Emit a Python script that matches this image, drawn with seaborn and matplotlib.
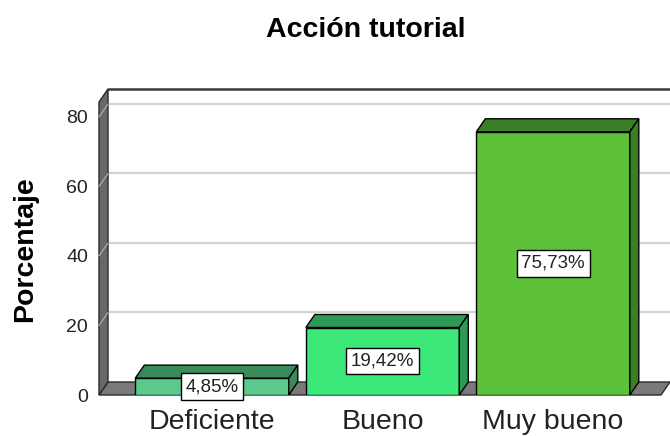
import matplotlib
matplotlib.use("Agg")
import matplotlib.pyplot as plt
from matplotlib.patches import Polygon
import seaborn as sns
import pandas as pd

categorias = ["Deficiente", "Bueno", "Muy bueno"]
porcentajes = [4.85, 19.42, 75.73]
etiquetas = ["4,85%", "19,42%", "75,73%"]
colores_frente = ["#5cc88c", "#3de87b", "#5dc23a"]
colores_lado = ["#3b8a5a", "#2c9a55", "#3c7d28"]
ticks_y = [0, 20, 40, 60, 80]

sns.set_theme(style="white")
plt.rcParams["font.family"] = ["Liberation Sans", "DejaVu Sans"]

W, H = 670, 436
fig = plt.figure(figsize=(W / 100, H / 100), dpi=100)

# front plane of the SPSS-like 3D box (pixels)
left, right, bottom, top = 99, 661, 395, 102
ax = fig.add_axes([left / W, (H - bottom) / H, (right - left) / W, (bottom - top) / H])

df = pd.DataFrame({"Categoria": categorias, "Porcentaje": porcentajes})
sns.barplot(data=df, x="Categoria", y="Porcentaje", hue="Categoria",
            palette=colores_frente, saturation=1, width=0.9, edgecolor="black",
            linewidth=1, legend=False, ax=ax, zorder=3)

ax.set_xlim(-0.663, 2.633)
ax.set_ylim(0, 84.3)

# depth of the 3D effect: 9 px right, 13 px up -> data units
DX, DY = 9, 13
x0, x1 = ax.get_xlim()
y0, y1 = ax.get_ylim()
ddx = DX * (x1 - x0) / (right - left)
ddy = DY * (y1 - y0) / (bottom - top)

# back wall grid + top border
for t in ticks_y[1:]:
    ax.plot([x0 + ddx, x1 + ddx], [t + ddy, t + ddy], color="#d2d2d2", lw=1.6,
            zorder=0.5, clip_on=False)
    ax.plot([x0, x0 + ddx], [t, t + ddy], color="#b5b5b5", lw=0.8, zorder=2.5,
            clip_on=False)
ax.plot([x0 + ddx, x1 + ddx + 0.1], [y1 + ddy, y1 + ddy], color="#3a3a3a", lw=1.8,
        zorder=2, clip_on=False)

# left wall and floor
pared = Polygon([(x0, 0), (x0, y1), (x0 + ddx, y1 + ddy), (x0 + ddx, ddy)],
                closed=True, fc="#686868", ec="#2a2a2a", lw=1, zorder=2, clip_on=False)
ax.add_patch(pared)
suelo = Polygon([(x0, 0), (x0 + ddx, ddy), (x1 + ddx, ddy), (x1, 0)],
                closed=True, fc="#7a7a7a", ec="#2a2a2a", lw=1, zorder=1, clip_on=False)
ax.add_patch(suelo)

# 3D tops and sides of the bars + value boxes
barras = sorted(ax.patches[:len(categorias)], key=lambda p: p.get_x())
for i, p in enumerate(barras):
    bx, bw, bh = p.get_x(), p.get_width(), p.get_height()
    tapa = Polygon([(bx, bh), (bx + ddx, bh + ddy), (bx + bw + ddx, bh + ddy), (bx + bw, bh)],
                   closed=True, fc=colores_lado[i], ec="black", lw=1, zorder=3)
    lado = Polygon([(bx + bw, 0), (bx + bw, bh), (bx + bw + ddx, bh + ddy), (bx + bw + ddx, ddy)],
                   closed=True, fc=colores_lado[i], ec="black", lw=1, zorder=3)
    ax.add_patch(tapa)
    ax.add_patch(lado)
    ax.text(bx + bw / 2, bh / 2, etiquetas[i], ha="center", va="center",
            fontsize=13.5, color="#222222", zorder=6,
            bbox=dict(boxstyle="square,pad=0.25", fc="white", ec="black", lw=1))

for s in ax.spines.values():
    s.set_visible(False)
ax.set_facecolor("none")
ax.set_yticks(ticks_y)
ax.set_yticklabels([str(t) for t in ticks_y], fontsize=14, color="#222222")
ax.tick_params(axis="y", length=0, pad=8)
ax.tick_params(axis="x", length=0, pad=10, labelsize=20.5, labelcolor="#222222")
ax.set_xlabel("")
ax.set_ylabel("")

fig.text(25 / W, 1 - 249 / H, "Porcentaje", rotation=90, ha="center", va="center",
         fontsize=20.5, fontweight="bold", color="black")
fig.text(366 / W, 1 - 37 / H, "Acción tutorial", ha="center", va="baseline",
         fontsize=20.5, fontweight="bold", color="black")

fig.savefig("out.png", dpi=100, facecolor="white")
